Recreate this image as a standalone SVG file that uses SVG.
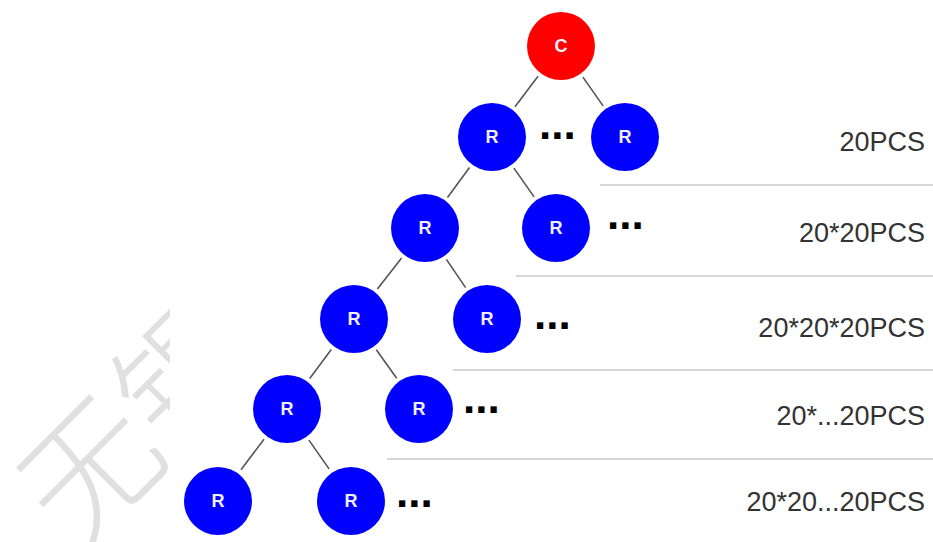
<svg xmlns="http://www.w3.org/2000/svg" width="933" height="542" viewBox="0 0 933 542">
<style>
.nr{fill:#0000ff}
.nc{fill:#ff0000}
.lbl{font-family:"Liberation Sans",Arial,sans-serif;font-weight:bold;font-size:18px;fill:#f0f0ff;text-anchor:middle}
.edge{stroke:#555555;stroke-width:1.6;fill:none}
.sep{stroke:#c8c8c8;stroke-width:1.5}
.cnt{font-family:"Liberation Sans",Arial,sans-serif;font-size:27px;fill:#333333;text-anchor:end}
.dots{font-family:"Liberation Sans",Arial,sans-serif;font-weight:bold;font-size:44px;fill:#000000}
.wm{font-family:"Noto Sans CJK SC",sans-serif;font-weight:200;font-size:135px;fill:#e0e0e0}
</style>
<defs>
<clipPath id="wmclip"><rect x="0" y="0" width="170" height="542"/></clipPath>
</defs>
<rect width="933" height="542" fill="#ffffff"/>
<g id="watermark" clip-path="url(#wmclip)">
<text class="wm" transform="translate(92,470) rotate(-45)" x="-68" y="48">无锡</text>
</g>
<g id="separators">
<line class="sep" x1="600" y1="185" x2="933" y2="185"/>
<line class="sep" x1="516" y1="276" x2="933" y2="276"/>
<line class="sep" x1="453" y1="370" x2="933" y2="370"/>
<line class="sep" x1="387" y1="459" x2="933" y2="459"/>
</g>
<g id="connectors">
<line class="edge" x1="538" y1="76.3" x2="515" y2="106.7"/>
<line class="edge" x1="582.9" y1="77.1" x2="603.1" y2="105.9"/>
<line class="edge" x1="469.5" y1="167.6" x2="447.5" y2="197.4"/>
<line class="edge" x1="513.9" y1="168.1" x2="534.1" y2="196.9"/>
<line class="edge" x1="401.6" y1="258" x2="377.4" y2="289"/>
<line class="edge" x1="446.4" y1="259.4" x2="465.6" y2="287.6"/>
<line class="edge" x1="331.3" y1="349.5" x2="309.7" y2="378.5"/>
<line class="edge" x1="376.3" y1="349.8" x2="396.7" y2="378.2"/>
<line class="edge" x1="264" y1="439.3" x2="241" y2="469.7"/>
<line class="edge" x1="308.9" y1="440.1" x2="329.1" y2="468.9"/>
</g>
<g id="nodeC"><circle class="nc" cx="561" cy="46" r="34"/><text class="lbl" x="561" y="52">C</text></g>
<g id="nodeR1a"><circle class="nr" cx="492" cy="137" r="34"/><text class="lbl" x="492" y="143">R</text></g>
<g id="nodeR1b"><circle class="nr" cx="625" cy="137" r="34"/><text class="lbl" x="625" y="143">R</text></g>
<g id="nodeR2a"><circle class="nr" cx="425" cy="228" r="34"/><text class="lbl" x="425" y="234">R</text></g>
<g id="nodeR2b"><circle class="nr" cx="556" cy="228" r="34"/><text class="lbl" x="556" y="234">R</text></g>
<g id="nodeR3a"><circle class="nr" cx="354" cy="319" r="34"/><text class="lbl" x="354" y="325">R</text></g>
<g id="nodeR3b"><circle class="nr" cx="487" cy="319" r="34"/><text class="lbl" x="487" y="325">R</text></g>
<g id="nodeR4a"><circle class="nr" cx="287" cy="409" r="34"/><text class="lbl" x="287" y="415">R</text></g>
<g id="nodeR4b"><circle class="nr" cx="419" cy="409" r="34"/><text class="lbl" x="419" y="415">R</text></g>
<g id="nodeR5a"><circle class="nr" cx="218" cy="501" r="34"/><text class="lbl" x="218" y="507">R</text></g>
<g id="nodeR5b"><circle class="nr" cx="351" cy="501" r="34"/><text class="lbl" x="351" y="507">R</text></g>
<g id="ellipses">
<text class="dots" x="539" y="139">...</text>
<text class="dots" x="607" y="229">...</text>
<text class="dots" x="534" y="329">...</text>
<text class="dots" x="463" y="413">...</text>
<text class="dots" x="396" y="507">...</text>
</g>
<g id="counts">
<text class="cnt" x="925" y="151">20PCS</text>
<text class="cnt" x="925" y="242">20*20PCS</text>
<text class="cnt" x="925" y="337">20*20*20PCS</text>
<text class="cnt" x="925" y="425">20*...20PCS</text>
<text class="cnt" x="925" y="511">20*20...20PCS</text>
</g>
</svg>
